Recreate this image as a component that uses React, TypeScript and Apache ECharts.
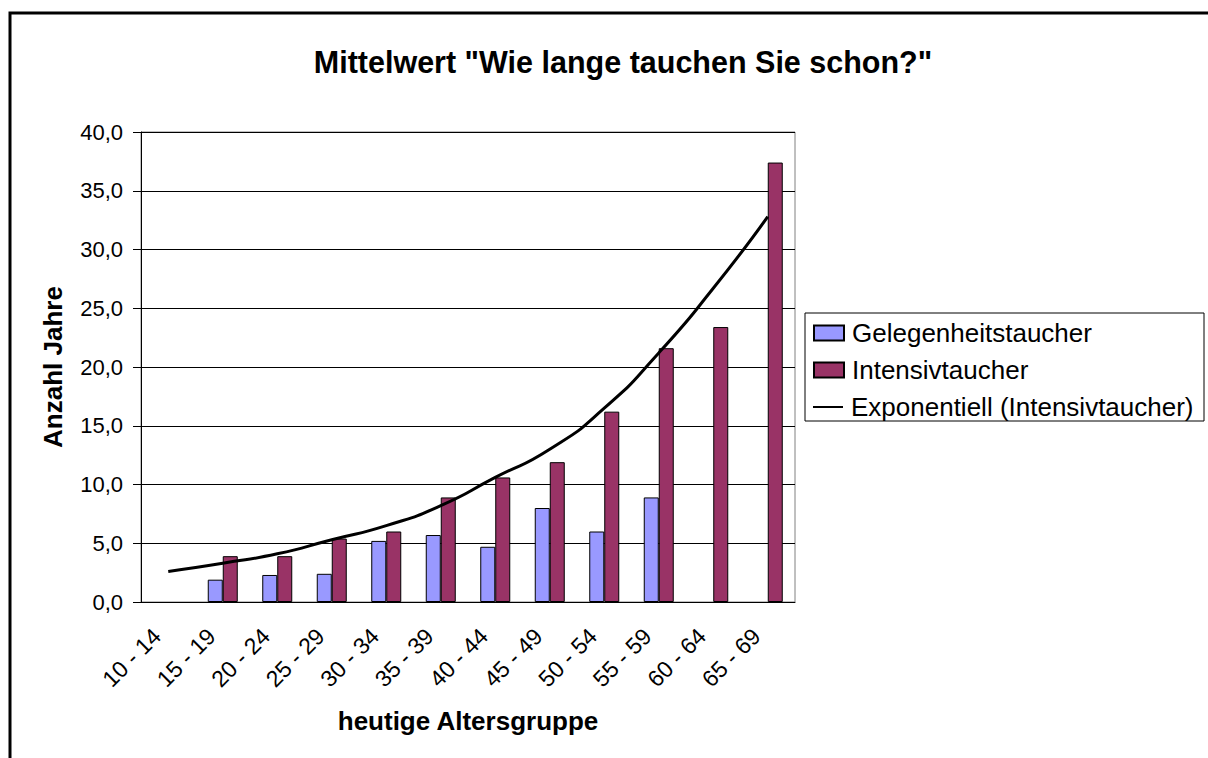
import React, { useEffect, useRef } from "react";
import * as echarts from "echarts";

const categories = ["10 - 14", "15 - 19", "20 - 24", "25 - 29", "30 - 34", "35 - 39", "40 - 44", "45 - 49", "50 - 54", "55 - 59", "60 - 64", "65 - 69"];
const gelegenheit = [null, 1.9, 2.3, 2.4, 5.2, 5.7, 4.7, 8.0, 6.0, 8.9, null, null];
const intensiv = [null, 3.9, 3.9, 5.4, 6.0, 8.9, 10.6, 11.9, 16.2, 21.6, 23.4, 37.4];
const trend = [2.6, 3.3, 4.1, 5.3, 6.5, 8.2, 10.6, 13.0, 16.5, 21.2, 26.7, 32.8];
const seriesNames = ["Gelegenheitstaucher", "Intensivtaucher", "Exponentiell (Intensivtaucher)"];

const FONT = "'Liberation Sans', Arial, sans-serif";

export default function App() {
  const ref = useRef<HTMLDivElement>(null);
  useEffect(() => {
    document.body.style.margin = "0";
    const chart = echarts.init(ref.current!, null, { renderer: "svg" });
    const legendText = { fontSize: 26, lineHeight: 26, color: "#000", fontFamily: FONT, padding: [0, 0, 0, 3] };
    chart.setOption({
      animation: false,
      backgroundColor: "#fff",
      textStyle: { fontFamily: FONT, color: "#000" },
      grid: { left: 141, right: 413, top: 132, bottom: 156, containLabel: false, show: true, borderColor: "#808080", borderWidth: 1, backgroundColor: "transparent" },
      graphic: [
        { type: "rect", shape: { x: 10, y: 13, width: 1400, height: 1000 }, style: { fill: "none", stroke: "#000", lineWidth: 3 }, silent: true, z: 0 },
        { type: "text", x: 623, y: 62, style: { text: 'Mittelwert "Wie lange tauchen Sie schon?"', font: `bold 30.5px ${FONT}`, fill: "#000", textAlign: "center", textVerticalAlign: "middle" } },
        { type: "rect", shape: { x: 805, y: 313, width: 399, height: 108 }, style: { fill: "#fff", stroke: "#000", lineWidth: 1 }, z: 0, silent: true },
      ],
      legend: [
        {
          orient: "vertical",
          left: 813,
          top: 320,
          padding: 0,
          itemWidth: 30,
          itemHeight: 15,
          itemGap: 11,
          z: 10,
          icon: "rect",
          data: [seriesNames[0], seriesNames[1]],
          textStyle: legendText,
        },
        {
          orient: "vertical",
          left: 813,
          top: 394,
          padding: 0,
          itemWidth: 30,
          itemHeight: 2,
          z: 10,
          icon: "rect",
          data: [seriesNames[2]],
          textStyle: legendText,
        },
      ],
      xAxis: {
        type: "category",
        data: categories,
        boundaryGap: true,
        axisLine: { lineStyle: { color: "#000", width: 1 } },
        axisTick: { length: 5, lineStyle: { color: "#000" } },
        axisLabel: { interval: 0, rotate: 45, fontSize: 23, color: "#000", fontFamily: FONT, margin: 19, padding: [0, 16, 0, 0] },
        name: "heutige Altersgruppe",
        nameLocation: "middle",
        nameGap: 106,
        nameTextStyle: { fontSize: 26, fontWeight: "bold", color: "#000", fontFamily: FONT },
      },
      yAxis: {
        type: "value",
        min: 0,
        max: 40,
        interval: 5,
        axisLine: { show: true, lineStyle: { color: "#000", width: 1 } },
        axisTick: { show: true, length: 8, lineStyle: { color: "#000" } },
        axisLabel: { fontSize: 22, color: "#000", fontFamily: FONT, margin: 18, formatter: (v: number) => v.toFixed(1).replace(".", ",") },
        splitLine: { show: true, lineStyle: { color: "#000", width: 1 } },
        name: "Anzahl Jahre",
        nameLocation: "middle",
        nameGap: 75,
        nameTextStyle: { fontSize: 26, fontWeight: "bold", color: "#000", fontFamily: FONT },
      },
      series: [
        { name: seriesNames[0], type: "bar", data: gelegenheit, barWidth: 15, barGap: "0%", itemStyle: { color: "#9999FF", borderColor: "#000", borderWidth: 1 } },
        { name: seriesNames[1], type: "bar", data: intensiv, barWidth: 15, barGap: "0%", itemStyle: { color: "#993366", borderColor: "#000", borderWidth: 1 } },
        { name: seriesNames[2], type: "line", data: trend, smooth: 0.6, symbol: "none", showSymbol: false, lineStyle: { color: "#000", width: 3 }, itemStyle: { color: "#000" }, z: 5 },
      ],
    });
    return () => chart.dispose();
  }, []);
  return <div ref={ref} style={{ width: 1208, height: 758 }} />;
}
